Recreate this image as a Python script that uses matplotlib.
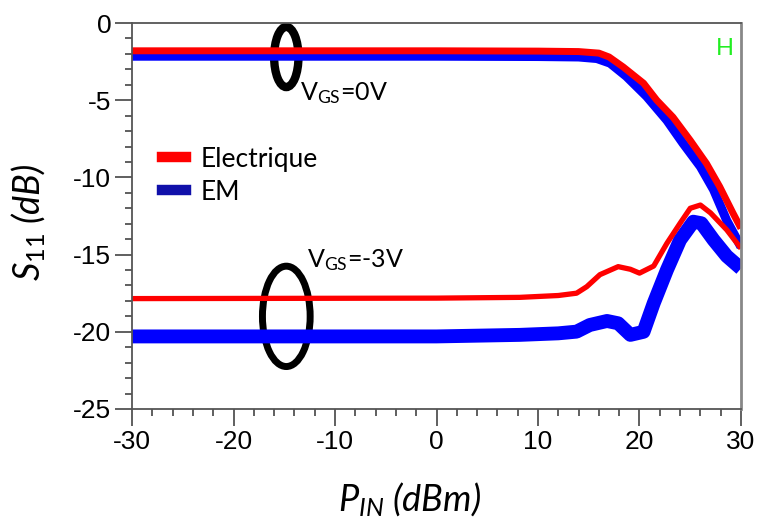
import matplotlib
matplotlib.use('Agg')
import matplotlib.pyplot as plt
from matplotlib import font_manager
from matplotlib.patches import Ellipse
from matplotlib.lines import Line2D
from matplotlib.ticker import MultipleLocator

# S11 vs input power
x_red_0v = [-30, 0, 10, 14, 16, 17, 18.4, 20.4, 21.7, 23.3, 25.0, 26.6, 27.9, 29.2, 30]
s11_red_0v = [-1.8, -1.8, -1.82, -1.85, -1.95, -2.2, -2.85, -3.9, -5.0, -6.1, -7.6,
              -9.1, -10.6, -12.3, -13.3]
x_blue_0v = [-30, 0, 10, 14, 15.8, 17.1, 18.7, 20.7, 22.7, 24.3, 26.0, 27.3, 28.6, 30]
s11_blue_0v = [-2.15, -2.15, -2.17, -2.2, -2.3, -2.6, -3.45, -4.75, -6.3, -7.8, -9.3,
               -10.8, -12.8, -14.5]
x_red_3v = [-30, 0, 8.2, 12, 13.8, 14.8, 16.1, 17.9, 19.1, 20.0, 21.4, 22.7, 24.0,
            25.0, 26.0, 27.0, 28.6, 30]
s11_red_3v = [-17.85, -17.82, -17.77, -17.65, -17.5, -17.08, -16.3, -15.78, -15.95,
              -16.2, -15.74, -14.27, -12.97, -12.0, -11.79, -12.3, -13.4, -14.6]
x_blue_3v = [-30, 0, 8.2, 12, 13.8, 15.1, 16.8, 17.9, 19.1, 20.4, 21.4, 22.7, 24.0,
             25.3, 26.1, 27.3, 28.6, 30]
s11_blue_3v = [-20.3, -20.3, -20.2, -20.1, -19.99, -19.56, -19.3, -19.45, -20.2, -20.0,
               -18.15, -16.0, -14.05, -12.87, -12.97, -14.05, -15.1, -15.9]

legend_labels = ['Electrique', 'EM']


def pick_font(names):
    installed = {f.name for f in font_manager.fontManager.ttflist}
    for n in names:
        if n in installed:
            return n
    return 'DejaVu Sans'


def main():
    tick_font = pick_font(['Liberation Sans Narrow', 'Liberation Sans'])
    text_font = pick_font(['Lato', 'Open Sans'])
    plt.rcParams['axes.unicode_minus'] = False
    plt.rcParams['mathtext.fontset'] = 'custom'
    plt.rcParams['mathtext.rm'] = text_font
    plt.rcParams['mathtext.it'] = text_font + ':italic'

    fig = plt.figure(figsize=(7.61, 5.23), dpi=100)
    ax = fig.add_axes([0.1735, 0.218, 0.8002, 0.738])

    ax.plot(x_blue_0v, s11_blue_0v, color='#0000ff', lw=6.5, solid_capstyle='butt')
    ax.plot(x_red_0v, s11_red_0v, color='#ff0000', lw=5, solid_capstyle='butt')
    ax.plot(x_blue_3v, s11_blue_3v, color='#0000ff', lw=10, solid_capstyle='butt')
    ax.plot(x_red_3v, s11_red_3v, color='#ff0000', lw=3.8, solid_capstyle='butt')

    ax.add_patch(Ellipse((-14.8, -2.2), 2.4, 3.9, fill=False, ec='black', lw=6))
    ax.add_patch(Ellipse((-14.8, -19.0), 4.7, 6.5, fill=False, ec='black', lw=5))

    ax.text(-13.45, -4.99, r'V$_{\mathrm{GS}}$=0V', fontsize=18, family=text_font,
            va='baseline')
    ax.text(-12.8, -15.8, r'V$_{\mathrm{GS}}$=-3V', fontsize=18, family=text_font,
            va='baseline')

    handles = [Line2D([], [], color='#ff0000', lw=7.5),
               Line2D([], [], color='#1010aa', lw=7.5)]
    ax.legend(handles, legend_labels, loc='upper left', bbox_to_anchor=(0.049, 0.68),
              frameon=False, borderaxespad=0, borderpad=0, handlelength=0.92,
              handletextpad=0.55, labelspacing=0.31,
              prop={'family': text_font, 'size': 19})

    ax.text(0.988, 0.96, 'H', transform=ax.transAxes, color='#22ee22', fontsize=17,
            family=text_font, ha='right', va='top')

    ax.set_xlim(-30, 30)
    ax.set_ylim(-25, 0)
    ax.xaxis.set_major_locator(MultipleLocator(10))
    ax.xaxis.set_minor_locator(MultipleLocator(2))
    ax.yaxis.set_major_locator(MultipleLocator(5))
    ax.yaxis.set_minor_locator(MultipleLocator(1))
    ax.tick_params(which='major', length=12, width=1.2, color='#444444', direction='out',
                   labelsize=19, pad=3)
    ax.tick_params(which='minor', length=5, width=1.2, color='#444444', direction='out')
    for lab in ax.get_xticklabels() + ax.get_yticklabels():
        lab.set_family(tick_font)
    for s in ax.spines.values():
        s.set_color('#555555')
        s.set_linewidth(1.3)
    ax.spines['right'].set_color('#888888')
    ax.spines['right'].set_linewidth(2)

    fig.text(409 / 761, 1 - 500 / 523, r'$P_{IN}$ (dBm)', fontsize=26, family=text_font,
             style='italic', ha='center', va='center')
    fig.text(29 / 761, 1 - 222 / 523, r'$S_{\mathit{11}}$ (dB)', fontsize=26,
             family=text_font, style='italic', rotation=90, ha='center', va='center')

    fig.savefig('out.png', dpi=100)


if __name__ == '__main__':
    main()
